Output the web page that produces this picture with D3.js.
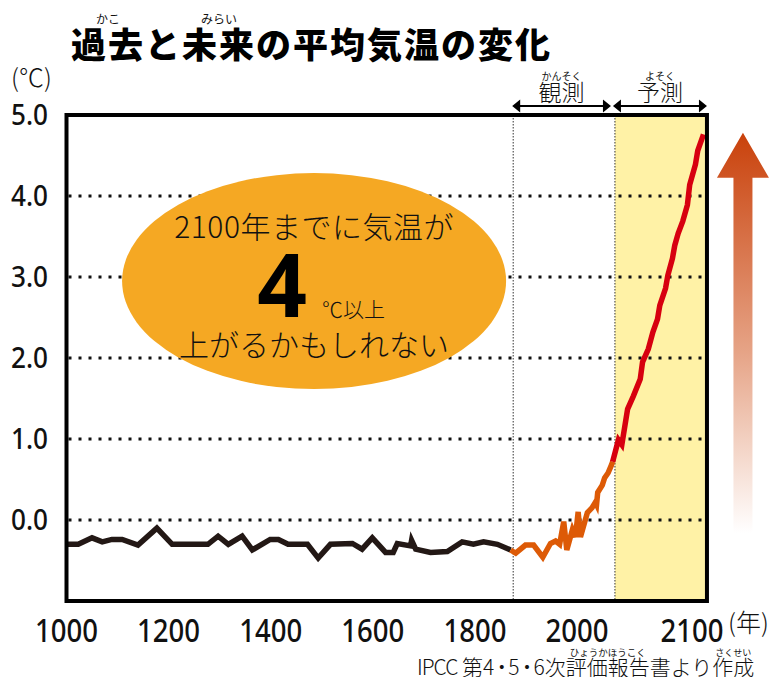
<!DOCTYPE html>
<html>
<head>
<meta charset="utf-8">
<script src="https://cdn.jsdelivr.net/npm/d3@7"></script>
<style>
    body { margin: 0; background: #fff; }
    svg { display: block; }
    text { font-family: "Noto Sans", "Noto Sans CJK JP", sans-serif; fill: #111; }
    .jp { font-family: "Noto Sans CJK JP", sans-serif; }
</style>
</head>
<body>
<svg id="chart" width="776" height="677"></svg>
<script>
// past reconstruction (black)
const pastYears = [1000, 1023, 1050, 1070, 1089, 1109, 1140, 1177, 1207, 1277, 1297, 1317, 1344, 1364, 1399, 1415,
    1434, 1472, 1493, 1517, 1560, 1579, 1599, 1625, 1640, 1648, 1674, 1676, 1684, 1713, 1746, 1775, 1797, 1817, 1844, 1870]
const pastTemps = [-0.30, -0.30, -0.22, -0.27, -0.24, -0.24, -0.31, -0.10, -0.30, -0.30, -0.20, -0.30, -0.20, -0.37, -0.24, -0.24,
    -0.30, -0.30, -0.47, -0.30, -0.29, -0.36, -0.22, -0.40, -0.40, -0.29, -0.32, -0.25, -0.36, -0.40, -0.39, -0.27, -0.30, -0.27, -0.30, -0.37]

// observations (orange)
const obsYears = [1870, 1880, 1899, 1915, 1933, 1948, 1958, 1966, 1974, 1980, 1991, 1997, 2001, 2003, 2009, 2013,
    2016, 2017, 2018, 2022, 2024, 2027, 2030, 2031]
const obsTemps = [-0.37, -0.41, -0.31, -0.31, -0.46, -0.29, -0.26, -0.30, -0.02, -0.37, -0.12, -0.21, 0.10, -0.21, 0.09, 0.15,
    0.22, 0.19, 0.34, 0.43, 0.52, 0.58, 0.68, 0.72]

// projection (red)
const projYears = [2031, 2036, 2039, 2044, 2049, 2055, 2057, 2062, 2066, 2070, 2072, 2077, 2079, 2083, 2085, 2088,
    2092, 2096, 2098, 2103, 2105, 2110]
const projTemps = [0.72, 0.99, 0.93, 1.37, 1.53, 1.74, 1.95, 2.11, 2.32, 2.48, 2.65, 2.86, 3.02, 3.23, 3.39, 3.54,
    3.69, 3.89, 4.14, 4.39, 4.56, 4.76]

const xTicks = [1000, 1200, 1400, 1600, 1800, 2000, 2100]
const yTicks = [0, 1, 2, 3, 4, 5]
const gridValues = [0, 1, 2, 3, 4]
const obsStart = 1875
const predStart = 2033
const xEnd = 2113

const svg = d3.select('#chart')

// the time axis is stretched after 2000
const x = d3.scaleLinear().domain([1000, 2000, 2100]).range([66.5, 577, 692])
const y = d3.scaleLinear().domain([-1, 5]).range([601, 115])

const zip = (xs, ys) => xs.map((year, i) => ({ year, t: ys[i] }))
const line = d3.line().x(d => x(d.year)).y(d => y(d.t))

// projection band
svg.append('rect')
    .attr('x', x(predStart)).attr('y', y(5))
    .attr('width', x(xEnd) - x(predStart)).attr('height', y(-1) - y(5))
    .attr('fill', '#fff2a6')

// dotted grid
svg.selectAll('.grid')
    .data(gridValues)
    .enter()
    .append('line')
    .attr('class', 'grid')
    .attr('x1', x(1000) + 2).attr('x2', x(xEnd))
    .attr('y1', d => y(d)).attr('y2', d => y(d))
    .attr('stroke', '#111').attr('stroke-width', 3).attr('stroke-dasharray', '3,7')

// period separators
svg.selectAll('.sep')
    .data([obsStart, predStart])
    .enter()
    .append('line')
    .attr('x1', d => x(d)).attr('x2', d => x(d))
    .attr('y1', y(5)).attr('y2', y(-1))
    .attr('stroke', '#333').attr('stroke-width', 1).attr('stroke-dasharray', '1.5,1.5')

// speech bubble
const bx = x(1485), by = y(2.95)
svg.append('ellipse')
    .attr('cx', bx).attr('cy', by).attr('rx', 192).attr('ry', 108)
    .attr('fill', '#f5a823')

svg.append('text').attr('class', 'jp')
    .attr('x', bx).attr('y', by - 43)
    .attr('text-anchor', 'middle').attr('font-size', 30).attr('font-weight', 300)
    .style('letter-spacing', '0.5px')
    .text('2100年までに気温が')
svg.append('text')
    .attr('x', bx - 32).attr('y', by + 36)
    .attr('text-anchor', 'middle').attr('font-size', 87).attr('font-weight', 700)
    .style('fill', '#000')
    .text('4')
svg.append('text').attr('class', 'jp')
    .attr('x', bx + 8).attr('y', by + 36)
    .attr('font-size', 21).attr('font-weight', 300)
    .text('℃以上')
svg.append('text').attr('class', 'jp')
    .attr('x', bx).attr('y', by + 75)
    .attr('text-anchor', 'middle').attr('font-size', 30).attr('font-weight', 300)
    .text('上がるかもしれない')

// temperature lines
const series = [
    { data: zip(pastYears, pastTemps), color: '#231815' },
    { data: zip(obsYears, obsTemps), color: '#dd5a06' },
    { data: zip(projYears, projTemps), color: '#d7000f' },
]
svg.selectAll('.series')
    .data(series)
    .enter()
    .append('path')
    .attr('d', d => line(d.data))
    .attr('fill', 'none')
    .attr('stroke', d => d.color)
    .attr('stroke-width', 5.5)
    .attr('stroke-linejoin', 'miter')

// frame
svg.append('rect')
    .attr('x', x(1000)).attr('y', y(5))
    .attr('width', x(xEnd) - x(1000)).attr('height', y(-1) - y(5))
    .attr('fill', 'none').attr('stroke', '#000').attr('stroke-width', 4)

// y labels
svg.selectAll('.ylab')
    .data(yTicks)
    .enter()
    .append('text')
    .attr('x', 48).attr('y', d => y(d)).attr('dy', '0.36em')
    .attr('text-anchor', 'end').attr('font-size', 28).attr('font-weight', 500)
    .attr('textLength', 37).attr('lengthAdjust', 'spacingAndGlyphs')
    .text(d => d.toFixed(1))

// x labels
svg.selectAll('.xlab')
    .data(xTicks)
    .enter()
    .append('text')
    .attr('x', d => x(d)).attr('y', 642)
    .attr('text-anchor', 'middle').attr('font-size', 32).attr('font-weight', 500)
    .attr('textLength', 63).attr('lengthAdjust', 'spacingAndGlyphs')
    .text(d => d)

svg.append('text').attr('class', 'jp')
    .attr('x', x(2100) + 36).attr('y', 632)
    .attr('font-size', 25).attr('font-weight', 300)
    .text('(年)')
svg.append('text').attr('class', 'jp')
    .attr('x', 11).attr('y', 87)
    .attr('font-size', 25).attr('font-weight', 300)
    .text('(℃)')

// ruby helper: small reading over chars [from..to] of a text
function ruby(textSel, from, to, label, size, gap) {
    const node = textSel.node()
    const x0 = node.getStartPositionOfChar(from).x
    const x1 = node.getEndPositionOfChar(to).x
    const base = +textSel.attr('y')
    const fs = +textSel.attr('font-size')
    svg.append('text').attr('class', 'jp')
        .attr('x', (x0 + x1) / 2)
        .attr('y', base - fs * 0.88 - gap)
        .attr('text-anchor', 'middle')
        .attr('font-size', size)
        .text(label)
}

// title
const title = svg.append('text').attr('class', 'jp')
    .attr('x', 71).attr('y', 58)
    .attr('font-size', 35).attr('font-weight', 900)
    .style('letter-spacing', '2px').style('fill', '#000')
    .text('過去と未来の平均気温の変化')
ruby(title, 0, 1, 'かこ', 12, 3)
ruby(title, 3, 4, 'みらい', 12, 3)

// period brackets
const by0 = y(5) - 9
function bracket(x0, x1, label, reading) {
    svg.append('line')
        .attr('x1', x0 + 6).attr('x2', x1 - 6).attr('y1', by0).attr('y2', by0)
        .attr('stroke', '#000').attr('stroke-width', 1.8)
    svg.append('path')
        .attr('d', `M${x0},${by0}l8,-6.5v13z M${x1},${by0}l-8,-6.5v13z`)
        .attr('fill', '#000')
    svg.append('text').attr('class', 'jp')
        .attr('x', (x0 + x1) / 2).attr('y', by0 - 5)
        .attr('text-anchor', 'middle').attr('font-size', 23).attr('font-weight', 300)
        .text(label)
    svg.append('text').attr('class', 'jp')
        .attr('x', (x0 + x1) / 2).attr('y', by0 - 5 - 23 * 0.88 - 1)
        .attr('text-anchor', 'middle').attr('font-size', 10)
        .text(reading)
}
bracket(x(obsStart) - 1, x(predStart) - 4, '観測', 'かんそく')
bracket(x(predStart) - 2, x(xEnd), '予測', 'よそく')

// rising arrow
const grad = svg.append('defs').append('linearGradient')
    .attr('id', 'rise').attr('x1', 0).attr('x2', 0).attr('y1', 0).attr('y2', 1)
grad.append('stop').attr('offset', 0).attr('stop-color', '#c9410b')
grad.append('stop').attr('offset', 0.55).attr('stop-color', '#e6a487')
grad.append('stop').attr('offset', 1).attr('stop-color', '#ffffff')
const ax = x(xEnd) + 36, aTop = y(4.78), aBot = y(-0.16)
svg.append('path')
    .attr('d', `M${ax},${aTop}L${ax + 26},${aTop + 45}H${ax + 9.5}V${aBot}H${ax - 9.5}V${aTop + 45}H${ax - 26}Z`)
    .attr('fill', 'url(#rise)')

// source: latin and digits set tight, kanji at full width
const src = svg.append('text').attr('class', 'jp')
    .attr('x', 417).attr('y', 675)
    .attr('font-size', 21).attr('font-weight', 300)
    .attr('dx', '0 -1 -1 -1 -1 0 0 -3 -4 -3 -4')
    .text('IPCC 第4・5・6次評価報告書より作成')
ruby(src, 12, 15, 'ひょうかほうこく', 9.5, 1)
ruby(src, 19, 20, 'さくせい', 9, 1)
</script>
</body>
</html>
